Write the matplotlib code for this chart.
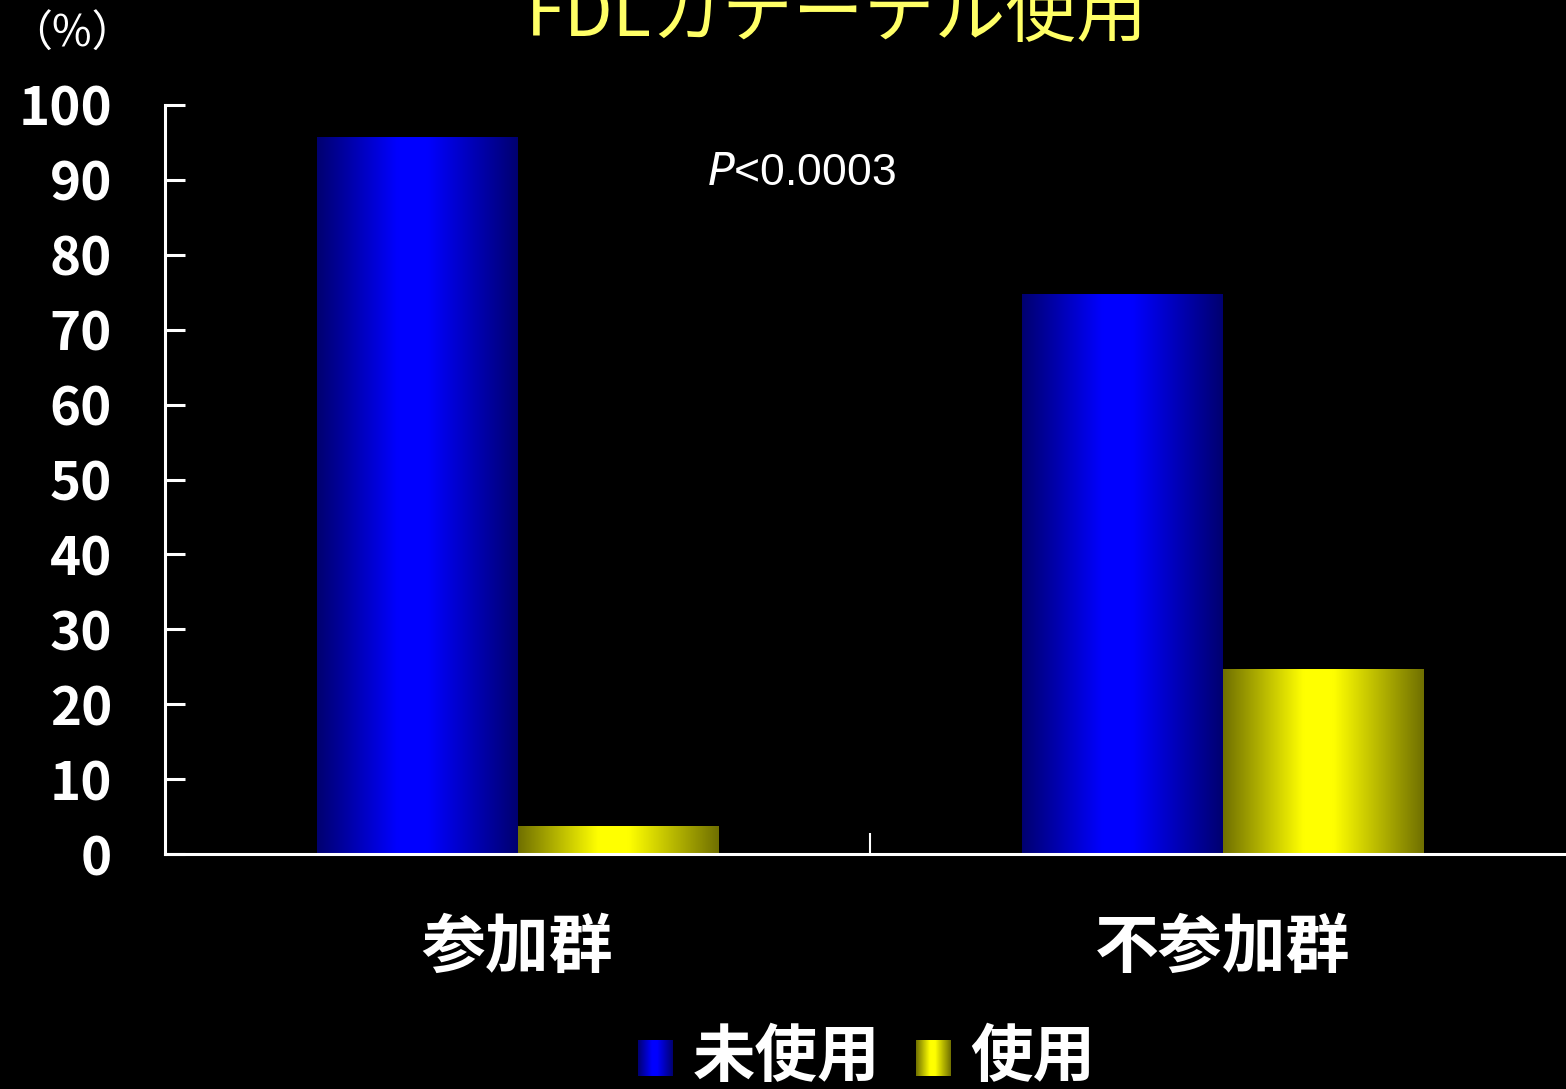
import numpy as np
import matplotlib.pyplot as plt
from matplotlib.colors import LinearSegmentedColormap

plt.rcParams['font.family'] = ['Noto Sans CJK JP', 'DejaVu Sans']

categories = ['参加群', '不参加群']
series_names = ['未使用', '使用']
unused = [95.7, 74.8]
used = [3.8, 24.7]
yticks = [0, 10, 20, 30, 40, 50, 60, 70, 80, 90, 100]

blue_cmap = LinearSegmentedColormap.from_list('bl', ['#000070', '#0000ff'])
yellow_cmap = LinearSegmentedColormap.from_list('yl', ['#707000', '#ffff00'])

# horizontal "cylinder" shading: dark edges, bright just left of centre
t = np.linspace(0, 1, 256)
shade = np.interp(t, [0, 0.4, 0.55, 1.0], [0.0, 1.0, 1.0, 0.0])
shade = shade[np.newaxis, :]


def shaded_bars(ax, bars, cmap):
    for b in bars:
        x0, y0 = b.get_x(), b.get_y()
        w, h = b.get_width(), b.get_height()
        im = ax.imshow(shade, cmap=cmap, vmin=0, vmax=1, aspect='auto',
                       extent=(x0, x0 + w, y0, y0 + h), zorder=2,
                       interpolation='bicubic')
        im.set_clip_path(b)
        b.set_facecolor('none')


fig = plt.figure(figsize=(15.66, 10.89), dpi=100, facecolor='black')
ax = fig.add_axes([165 / 1566, 1 - 854 / 1089, 1410 / 1566, 749 / 1089])
ax.set_facecolor('black')

x = np.arange(len(categories))
width = 0.284
b1 = ax.bar(x - 0.143, unused, width, color='none', edgecolor='none', zorder=2)
b2 = ax.bar(x + 0.143, used, width, color='none', edgecolor='none', zorder=2)
shaded_bars(ax, b1, blue_cmap)
shaded_bars(ax, b2, yellow_cmap)

ax.set_xlim(-0.5, 1.5)
ax.set_ylim(0, 100)

for side in ['top', 'right']:
    ax.spines[side].set_visible(False)
for side in ['left', 'bottom']:
    ax.spines[side].set_color('white')
    ax.spines[side].set_linewidth(2.2)

ax.set_yticks(yticks)
ax.tick_params(axis='y', direction='in', length=14.5, width=2.2, color='white',
               labelcolor='white', labelsize=38, pad=38)
for lbl in ax.get_yticklabels():
    lbl.set_fontweight('bold')

ax.set_xticks(x)
ax.set_xticklabels(categories)
ax.tick_params(axis='x', which='major', length=0, pad=44, labelcolor='white',
               labelsize=46)
for lbl in ax.get_xticklabels():
    lbl.set_fontweight('bold')
ax.set_xticks([0.5], minor=True)
ax.tick_params(axis='x', which='minor', direction='in', length=15, width=1.5,
               color='white')

ax.text(0.403, 90.8, r'$\it{P}$<0.0003', color='white', fontsize=32,
        family=['Liberation Sans', 'DejaVu Sans'], ha='center', va='center')

fig.text(72 / 1566, 1 - 35 / 1089, '（%）', color='white', fontsize=31,
         ha='center', va='center')

fig.text(837 / 1566, 1 - 36 / 1089, 'FDLカテーテル使用', color='#ffff66',
         fontsize=51, ha='center', va='baseline')

# legend drawn by hand so the swatches keep the shading
legend_items = [(series_names[0], blue_cmap, 638, 693),
                (series_names[1], yellow_cmap, 916, 970)]
for name, cmap, sx, tx in legend_items:
    sw = fig.add_axes([sx / 1566, 1 - 1076 / 1089, 35 / 1566, 36 / 1089])
    sw.imshow(shade, cmap=cmap, vmin=0, vmax=1, aspect='auto')
    sw.axis('off')
    fig.text(tx / 1566, 1 - 1057 / 1089, name, color='white', fontsize=45,
             fontweight='bold', ha='left', va='center')

fig.savefig('out.png', dpi=100, facecolor='black')
